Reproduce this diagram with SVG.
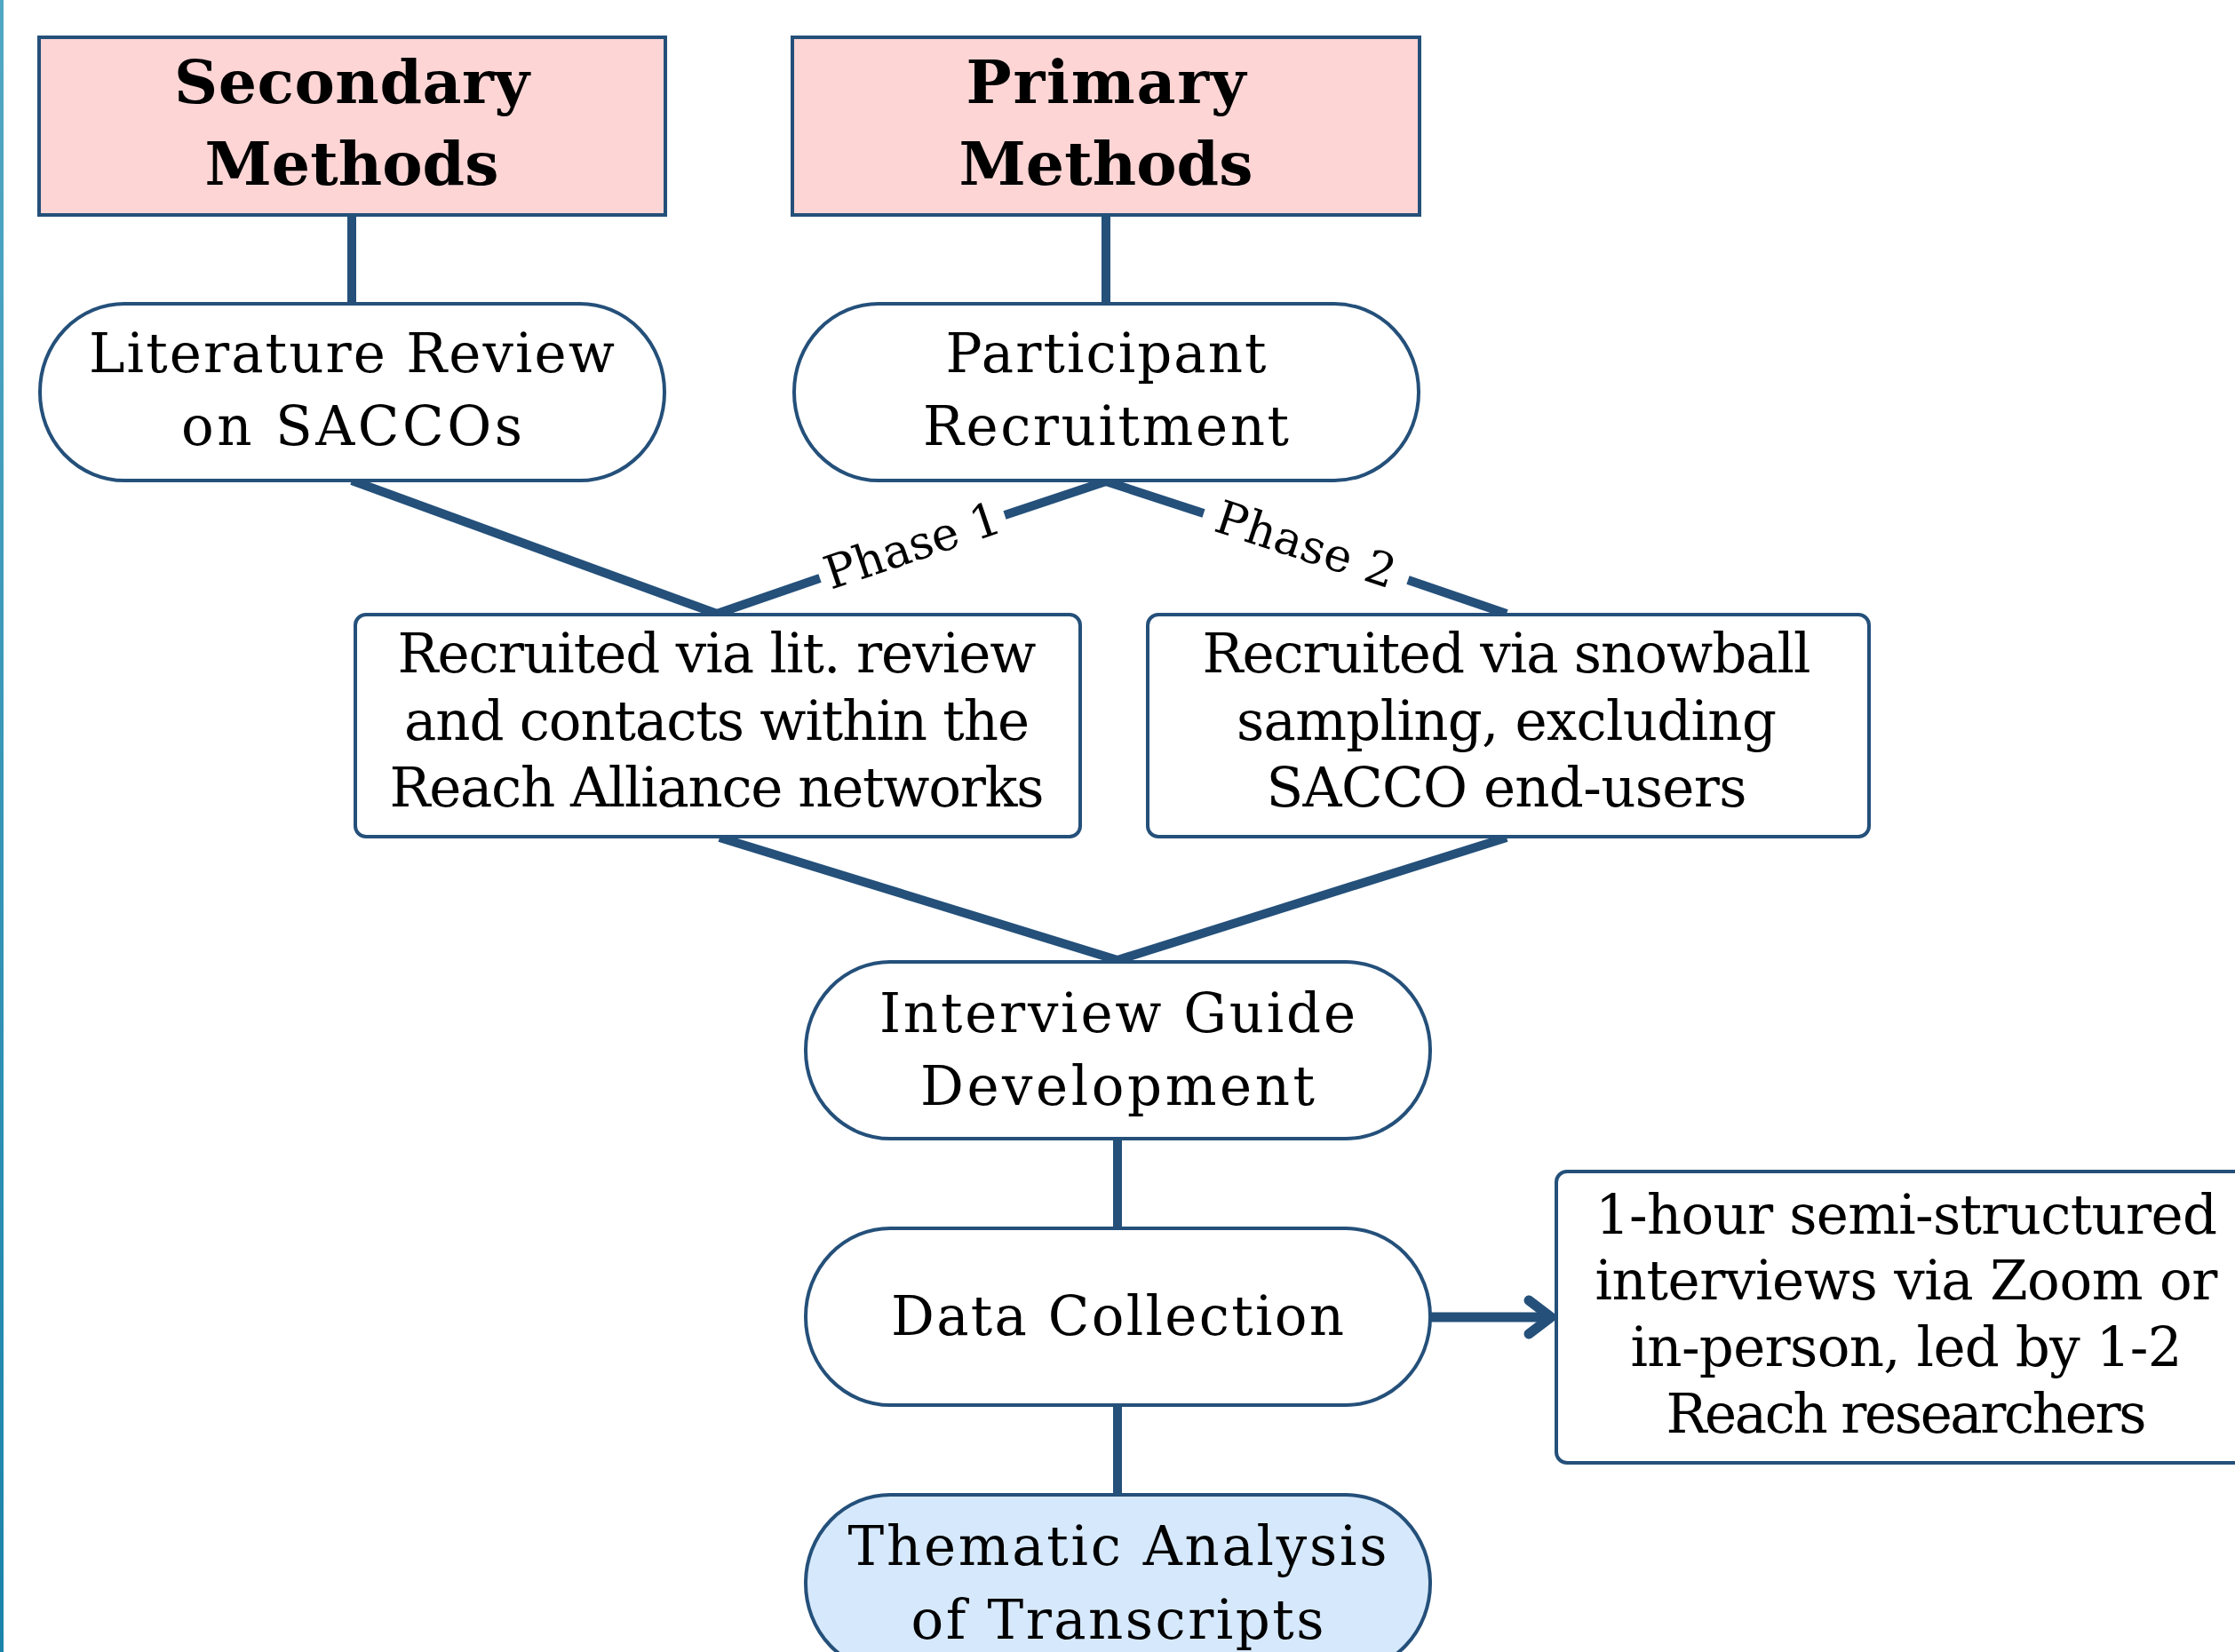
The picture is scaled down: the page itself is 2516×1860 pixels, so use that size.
<svg xmlns="http://www.w3.org/2000/svg" width="2516" height="1860" viewBox="0 0 2516 1860">
<defs>
<linearGradient id="bar" x1="0" y1="0" x2="0" y2="1">
<stop offset="0" stop-color="#52a8c4"/>
<stop offset="1" stop-color="#1b83aa"/>
</linearGradient>
<style>
.title{font-family:"DejaVu Serif","Liberation Serif",serif;font-weight:bold;font-size:68px;fill:#000;text-anchor:middle;}
.t{font-family:"DejaVu Serif","Liberation Serif",serif;font-size:61px;fill:#000;text-anchor:middle;}
.ph{font-family:"DejaVu Serif","Liberation Serif",serif;font-size:52px;fill:#000;text-anchor:middle;dominant-baseline:central;}
.pink{fill:#fdd5d5;stroke:#24507a;stroke-width:4;}
.stad{fill:#fff;stroke:#24507a;stroke-width:4;}
.blue{fill:#d6e8fb;stroke:#24507a;stroke-width:4;}
.box{fill:#fff;stroke:#24507a;stroke-width:4;}
.c{stroke:#24507a;stroke-width:10;fill:none;}
.arr{stroke:#24507a;stroke-width:11;fill:none;stroke-linecap:round;stroke-linejoin:round;}
</style>
</defs>
<rect x="0" y="0" width="2516" height="1860" fill="#fff"/>
<rect x="0" y="0" width="4" height="1860" fill="url(#bar)"/>

<g id="connectors">
<line class="c" x1="396" y1="242" x2="396" y2="342"/>
<line class="c" x1="1245" y1="242" x2="1245" y2="342"/>
<line class="c" x1="396" y1="541" x2="807" y2="691"/>
<polyline class="c" points="807,691 923,651"/>
<polyline class="c" points="1131,580 1245,542 1355,578"/>
<polyline class="c" points="1585,653 1696,691"/>
<text class="ph" transform="translate(1027,614) rotate(-18.7)" textLength="206" lengthAdjust="spacing">Phase 1</text>
<text class="ph" transform="translate(1470,613) rotate(18.2)" textLength="210" lengthAdjust="spacing">Phase 2</text>
<line class="c" x1="810" y1="943" x2="1258" y2="1081"/>
<line class="c" x1="1696" y1="943" x2="1258" y2="1081"/>
<line class="c" x1="1258" y1="1282" x2="1258" y2="1383"/>
<line class="c" x1="1258" y1="1582" x2="1258" y2="1683"/>
<line class="c" x1="1610" y1="1483" x2="1744" y2="1483" style="stroke-width:11"/>
<polyline class="arr" points="1721,1464 1746,1483 1721,1502"/>
</g>

<g id="secondary">
<rect class="pink" x="44" y="42" width="705" height="200"/>
<text class="title" x="396" y="116" textLength="400" lengthAdjust="spacing">Secondary</text>
<text class="title" x="396" y="208" textLength="331" lengthAdjust="spacing">Methods</text>
</g>
<g id="primary">
<rect class="pink" x="892" y="42" width="706" height="200"/>
<text class="title" x="1245" y="116" textLength="315" lengthAdjust="spacing">Primary</text>
<text class="title" x="1245" y="208" textLength="331" lengthAdjust="spacing">Methods</text>
</g>
<g id="litreview">
<rect class="stad" x="45" y="342" width="703" height="199" rx="95" ry="99"/>
<text class="t" x="396" y="419" textLength="592" lengthAdjust="spacing">Literature Review</text>
<text class="t" x="396" y="501" textLength="384" lengthAdjust="spacing">on SACCOs</text>
</g>
<g id="recruitment">
<rect class="stad" x="894" y="342" width="703" height="199" rx="95" ry="99"/>
<text class="t" x="1245" y="419" textLength="361" lengthAdjust="spacing">Participant</text>
<text class="t" x="1245" y="501" textLength="412" lengthAdjust="spacing">Recruitment</text>
</g>
<g id="phase1box">
<rect class="box" x="400" y="692" width="816" height="250" rx="12"/>
<text class="t" x="807" y="757" textLength="719" lengthAdjust="spacing">Recruited via lit. review</text>
<text class="t" x="807" y="833" textLength="704" lengthAdjust="spacing">and contacts within the</text>
<text class="t" x="807" y="908" textLength="737" lengthAdjust="spacing">Reach Alliance networks</text>
</g>
<g id="phase2box">
<rect class="box" x="1292" y="692" width="812" height="250" rx="12"/>
<text class="t" x="1696" y="757" textLength="685" lengthAdjust="spacing">Recruited via snowball</text>
<text class="t" x="1696" y="833" textLength="608" lengthAdjust="spacing">sampling, excluding</text>
<text class="t" x="1696" y="908" textLength="541" lengthAdjust="spacing">SACCO end-users</text>
</g>
<g id="guide">
<rect class="stad" x="907" y="1083" width="703" height="199" rx="95" ry="99"/>
<text class="t" x="1258" y="1162" textLength="536" lengthAdjust="spacing">Interview Guide</text>
<text class="t" x="1258" y="1244" textLength="444" lengthAdjust="spacing">Development</text>
</g>
<g id="collection">
<rect class="stad" x="907" y="1383" width="703" height="199" rx="95" ry="99"/>
<text class="t" x="1258" y="1503" textLength="510" lengthAdjust="spacing">Data Collection</text>
</g>
<g id="interviews">
<rect class="box" x="1752" y="1319" width="790" height="328" rx="12"/>
<text class="t" x="2146" y="1389" textLength="700" lengthAdjust="spacing">1-hour semi-structured</text>
<text class="t" x="2146" y="1463" textLength="701" lengthAdjust="spacing">interviews via Zoom or</text>
<text class="t" x="2146" y="1538" textLength="621" lengthAdjust="spacing">in-person, led by 1-2</text>
<text class="t" x="2146" y="1613" textLength="541" lengthAdjust="spacing">Reach researchers</text>
</g>
<g id="thematic">
<rect class="blue" x="907" y="1683" width="703" height="199" rx="95" ry="99"/>
<text class="t" x="1258" y="1762" textLength="607" lengthAdjust="spacing">Thematic Analysis</text>
<text class="t" x="1258" y="1845" textLength="465" lengthAdjust="spacing">of Transcripts</text>
</g>
</svg>
